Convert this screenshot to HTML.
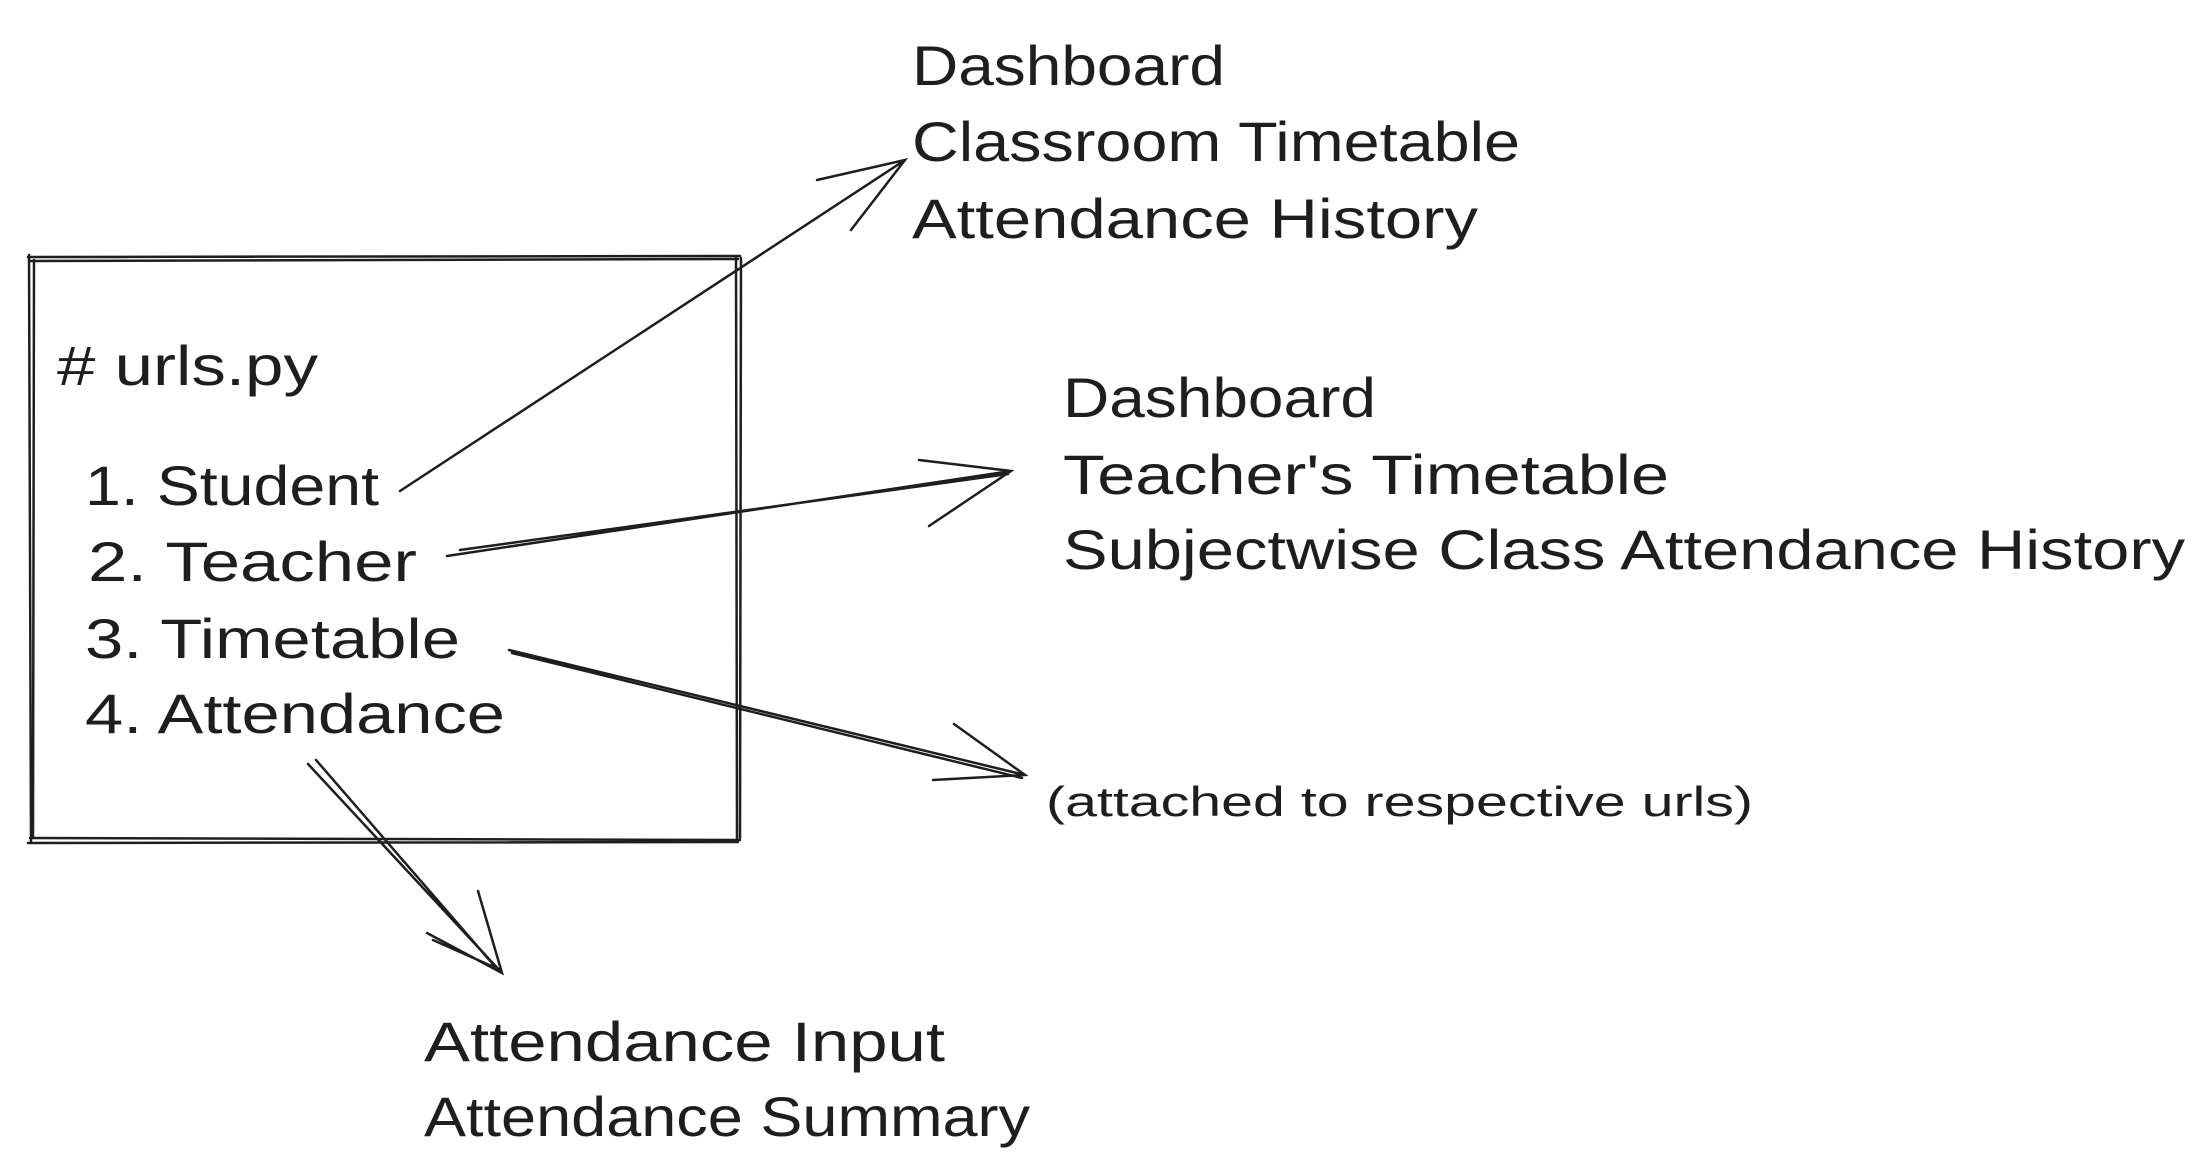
<!DOCTYPE html>
<html><head><meta charset="utf-8"><style>
html,body{margin:0;padding:0;background:#fff;}
svg{display:block;}
text{font-family:"Liberation Sans",sans-serif;fill:#1e1e1e;}
</style></head><body>
<svg width="2206" height="1176" viewBox="0 0 2206 1176" xmlns="http://www.w3.org/2000/svg">
<g fill="none" stroke="#1e1e1e" stroke-width="2.5" stroke-linecap="round">
<path d="M28 257 L740 256 M30 261 L738 259"/>
<path d="M30 838 L740 840 M28 843 L738 842"/>
<path d="M29 255 L31 842 M34 260 L33 838"/>
<path d="M736 256 L737 842 M741 258 L740 838"/>
<path d="M400 491 L905 160 M817 180 L905 160 L851 230"/>
<path d="M447 556 L1011 471 M460 550 L1008 474 M919 460 L1011 471 L929 526"/>
<path d="M509 650 L1025 775 M512 653 L1022 778 M954 724 L1025 775 L933 780"/>
<path d="M308 764 L502 973 M316 760 L498 970 M427 933 L502 973 L478 891 M433 940 L496 968"/>
</g>
<g font-size="56">
<text x="912" y="85" textLength="313" lengthAdjust="spacingAndGlyphs">Dashboard</text>
<text x="912" y="161" textLength="608" lengthAdjust="spacingAndGlyphs">Classroom Timetable</text>
<text x="912" y="238" textLength="566" lengthAdjust="spacingAndGlyphs">Attendance History</text>
<text x="57" y="385" textLength="261" lengthAdjust="spacingAndGlyphs"># urls.py</text>
<text x="85" y="505" textLength="294" lengthAdjust="spacingAndGlyphs">1. Student</text>
<text x="88" y="581" textLength="329" lengthAdjust="spacingAndGlyphs">2. Teacher</text>
<text x="85" y="658" textLength="375" lengthAdjust="spacingAndGlyphs">3. Timetable</text>
<text x="85" y="733" textLength="420" lengthAdjust="spacingAndGlyphs">4. Attendance</text>
<text x="1063" y="417" textLength="313" lengthAdjust="spacingAndGlyphs">Dashboard</text>
<text x="1063" y="494" textLength="606" lengthAdjust="spacingAndGlyphs">Teacher's Timetable</text>
<text x="1063" y="569" textLength="1122" lengthAdjust="spacingAndGlyphs">Subjectwise Class Attendance History</text>
<text x="424" y="1061" textLength="521" lengthAdjust="spacingAndGlyphs">Attendance Input</text>
<text x="424" y="1136" textLength="606" lengthAdjust="spacingAndGlyphs">Attendance Summary</text>
</g>
<text x="1046" y="816" font-size="42" textLength="707" lengthAdjust="spacingAndGlyphs">(attached to respective urls)</text>
</svg>
</body></html>
